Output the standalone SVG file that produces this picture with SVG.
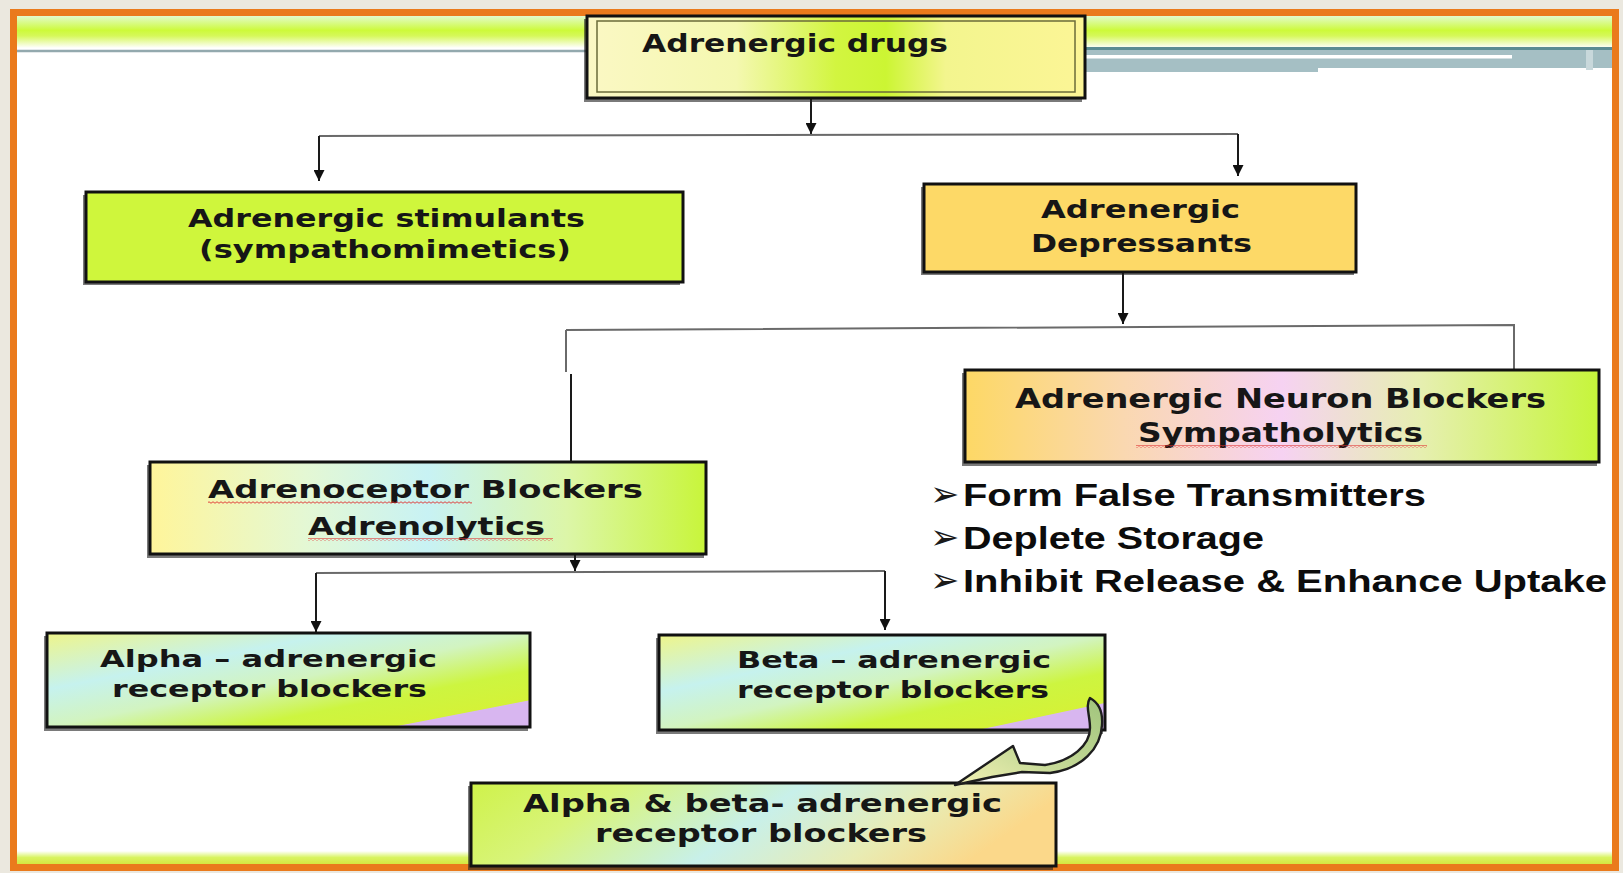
<svg xmlns="http://www.w3.org/2000/svg" width="1623" height="873" viewBox="0 0 1623 873">
<style>
.t{font-family:"DejaVu Sans","Liberation Sans",sans-serif;font-weight:bold;fill:#161616}
.b{font-family:"Liberation Sans",Arial,sans-serif;font-weight:bold;font-size:32px;fill:#0c0c0c}
.bu{font-family:"DejaVu Sans",sans-serif;font-size:35px;fill:#1a1a1a}
.box{stroke:#111;stroke-width:3}
.sh{fill:#222;opacity:.6}
.v{stroke:#1a1a1a;stroke-width:2;fill:none}
.h{stroke:#6a6a6a;stroke-width:2;fill:none}
</style>
<defs>
<marker id="ah" viewBox="0 0 10 10" refX="10" refY="5" markerWidth="11" markerHeight="11" orient="auto" markerUnits="userSpaceOnUse">
<path d="M0,0 L10,5 L0,10 z" fill="#111"/>
</marker>
<pattern id="wavy" patternUnits="userSpaceOnUse" width="4" height="3">
<path d="M0,1.5 Q1,0 2,1.5 T4,1.5" stroke="#e03030" stroke-width="0.9" fill="none"/>
</pattern>
<linearGradient id="gBand" x1="0" y1="0" x2="0" y2="1">
<stop offset="0" stop-color="#e2fbcc"/><stop offset="0.45" stop-color="#cdfa3a"/><stop offset="0.62" stop-color="#d6f85a"/><stop offset="1" stop-color="#ffffff"/>
</linearGradient>
<linearGradient id="gBot" x1="0" y1="0" x2="0" y2="1">
<stop offset="0" stop-color="#ffffff"/><stop offset="0.5" stop-color="#d8f460"/><stop offset="1" stop-color="#d6e640"/>
</linearGradient>
<linearGradient id="gTop" x1="0" y1="0" x2="1" y2="0">
<stop offset="0" stop-color="#fbf8c4"/><stop offset="0.3" stop-color="#f4f8b0"/><stop offset="0.5" stop-color="#d2f540"/><stop offset="0.6" stop-color="#ccf533"/><stop offset="0.72" stop-color="#f3f58e"/><stop offset="1" stop-color="#fcf596"/>
</linearGradient>
<linearGradient id="gNeur" x1="0" y1="0" x2="1" y2="0">
<stop offset="0" stop-color="#fdd865"/><stop offset="0.25" stop-color="#fad8b0"/><stop offset="0.5" stop-color="#f6d2f2"/><stop offset="0.72" stop-color="#e6efb0"/><stop offset="1" stop-color="#c6f53a"/>
</linearGradient>
<linearGradient id="gCep" x1="0" y1="0" x2="1" y2="0">
<stop offset="0" stop-color="#fff59a"/><stop offset="0.28" stop-color="#e4f8d4"/><stop offset="0.5" stop-color="#c8f2f4"/><stop offset="0.75" stop-color="#dcf6a8"/><stop offset="1" stop-color="#c8f53a"/>
</linearGradient>
<linearGradient id="gAB" x1="0" y1="0" x2="1" y2="1">
<stop offset="0" stop-color="#eef58a"/><stop offset="0.3" stop-color="#c6f2ee"/><stop offset="0.5" stop-color="#d2f4c0"/><stop offset="0.7" stop-color="#cdf540"/><stop offset="0.855" stop-color="#d4f238"/><stop offset="0.86" stop-color="#d8b6f0"/><stop offset="1" stop-color="#d8b6f0"/>
</linearGradient>
<linearGradient id="gBoth" x1="0" y1="0" x2="1" y2="0.2">
<stop offset="0" stop-color="#cff24a"/><stop offset="0.25" stop-color="#d8f47a"/><stop offset="0.55" stop-color="#c8f0ea"/><stop offset="0.8" stop-color="#e8ecb4"/><stop offset="1" stop-color="#fbd88a"/>
</linearGradient>
<linearGradient id="gCurve" x1="1" y1="0" x2="0" y2="1">
<stop offset="0" stop-color="#a0c47c"/><stop offset="0.6" stop-color="#cadc9a"/><stop offset="1" stop-color="#f4f2b4"/>
</linearGradient>
</defs>

<rect x="0" y="0" width="1623" height="873" fill="#ebe8df"/>
<rect x="13.5" y="12.5" width="1602" height="855" fill="#ffffff" stroke="#ea7a1c" stroke-width="7"/>
<rect x="17" y="16" width="1595" height="32" fill="url(#gBand)"/>
<line x1="17" y1="51" x2="590" y2="51" stroke="#93a9ae" stroke-width="2.5"/>
<rect x="1085" y="47" width="527" height="3" fill="#5b8c92"/>
<rect x="1085" y="50" width="527" height="18" fill="#a5bfc4"/>
<rect x="1085" y="55" width="427" height="3.5" fill="#ffffff"/>
<rect x="1085" y="68" width="233" height="4" fill="#a5bfc4"/>
<rect x="1586" y="50" width="7" height="20" fill="#c8d8db"/>
<rect x="17" y="851" width="1595" height="13" fill="url(#gBot)"/>

<g id="connectors">
<path class="v" d="M811,98 L811,134" marker-end="url(#ah)"/>
<path class="h" d="M319,136 L1238,134"/>
<path class="v" d="M319,136 L319,181" marker-end="url(#ah)"/>
<path class="v" d="M1238,134 L1238,176" marker-end="url(#ah)"/>
<path class="v" d="M1123,273 L1123,324" marker-end="url(#ah)"/>
<path class="h" d="M566,330 L1514,325 L1514,370"/>
<path class="h" d="M566,330 L566,372"/>
<path class="v" d="M571,374 L571,462" stroke-width="2.5"/>
<path class="v" d="M575,555 L575,571" marker-end="url(#ah)"/>
<path class="h" d="M316,573 L885,571"/>
<path class="v" d="M316,573 L316,632" marker-end="url(#ah)"/>
<path class="v" d="M885,571 L885,630" marker-end="url(#ah)"/>
</g>

<g id="n-drugs">
<rect class="sh" x="584" y="19" width="498" height="83"/>
<rect class="box" x="587" y="16" width="498" height="82" fill="url(#gTop)"/>
<rect x="597" y="21" width="478" height="71" fill="none" stroke="#6b6b3a" stroke-width="1.5"/>
<text class="t" x="642" y="52" font-size="24" textLength="306" lengthAdjust="spacingAndGlyphs">Adrenergic drugs</text>
</g>

<g id="n-stimulants">
<rect class="sh" x="83" y="195" width="597" height="90"/>
<rect class="box" x="86" y="192" width="597" height="90" fill="#cff63c"/>
<text class="t" x="188" y="227" font-size="25" textLength="397" lengthAdjust="spacingAndGlyphs">Adrenergic stimulants</text>
<text class="t" x="199" y="258" font-size="25" textLength="372" lengthAdjust="spacingAndGlyphs">(sympathomimetics)</text>
</g>

<g id="n-depressants">
<rect class="sh" x="921" y="187" width="433" height="88"/>
<rect class="box" x="924" y="184" width="432" height="88" fill="#fdd967"/>
<text class="t" x="1041" y="218" font-size="25" textLength="199" lengthAdjust="spacingAndGlyphs">Adrenergic</text>
<text class="t" x="1031" y="252" font-size="25" textLength="221" lengthAdjust="spacingAndGlyphs">Depressants</text>
</g>

<g id="n-neuron">
<rect class="sh" x="962" y="373" width="635" height="93"/>
<rect class="box" x="965" y="370" width="634" height="92" fill="url(#gNeur)"/>
<text class="t" x="1015" y="408" font-size="26" textLength="531" lengthAdjust="spacingAndGlyphs">Adrenergic Neuron Blockers</text>
<text class="t" x="1138" y="442" font-size="26" textLength="285" lengthAdjust="spacingAndGlyphs">Sympatholytics</text>
<rect x="1136" y="445" width="291" height="3" fill="url(#wavy)"/>
</g>

<g id="n-adrenoceptor">
<rect class="sh" x="147" y="465" width="557" height="93"/>
<rect class="box" x="150" y="462" width="556" height="92" fill="url(#gCep)"/>
<text class="t" x="208" y="498" font-size="25" textLength="435" lengthAdjust="spacingAndGlyphs">Adrenoceptor Blockers</text>
<text class="t" x="308" y="535" font-size="25" textLength="237" lengthAdjust="spacingAndGlyphs">Adrenolytics</text>
<rect x="208" y="501" width="264" height="3" fill="url(#wavy)"/>
<rect x="308" y="538" width="245" height="3" fill="url(#wavy)"/>
</g>

<g id="n-alpha">
<rect class="sh" x="44" y="636" width="484" height="95"/>
<rect class="box" x="47" y="633" width="483" height="94" fill="url(#gAB)"/>
<text class="t" x="100" y="667" font-size="23" textLength="337" lengthAdjust="spacingAndGlyphs">Alpha – adrenergic</text>
<text class="t" x="112" y="697" font-size="23" textLength="315" lengthAdjust="spacingAndGlyphs">receptor blockers</text>
</g>

<g id="n-beta">
<rect class="sh" x="656" y="638" width="447" height="96"/>
<rect class="box" x="659" y="635" width="446" height="95" fill="url(#gAB)"/>
<text class="t" x="737" y="668" font-size="23" textLength="314" lengthAdjust="spacingAndGlyphs">Beta – adrenergic</text>
<text class="t" x="737" y="698" font-size="23" textLength="312" lengthAdjust="spacingAndGlyphs">receptor blockers</text>
</g>

<g id="n-alphabeta">
<rect class="sh" x="468" y="786" width="585" height="84"/>
<rect class="box" x="471" y="783" width="585" height="83" fill="url(#gBoth)"/>
<text class="t" x="523" y="812" font-size="24" textLength="479" lengthAdjust="spacingAndGlyphs">Alpha &amp; beta- adrenergic</text>
<text class="t" x="595" y="842" font-size="24" textLength="332" lengthAdjust="spacingAndGlyphs">receptor blockers</text>
</g>

<g id="curved-arrow">
<path d="M1090,698 C1099,703 1103,712 1102,725 C1101,748 1082,769 1050,773 L1022,772 L992,777 L955,785 L1013,746 L1020,763 L1045,765 C1072,761 1090,745 1090,728 C1090,715 1085,706 1090,698 Z" fill="url(#gCurve)" stroke="#1e1e1e" stroke-width="2.4" stroke-linejoin="round"/>
</g>

<g id="n-bullets">
<text class="bu" x="930" y="506">➢</text>
<text class="b" x="963" y="506" textLength="463" lengthAdjust="spacingAndGlyphs">Form False Transmitters</text>
<text class="bu" x="930" y="549">➢</text>
<text class="b" x="963" y="549" textLength="301" lengthAdjust="spacingAndGlyphs">Deplete Storage</text>
<text class="bu" x="930" y="592">➢</text>
<text class="b" x="963" y="592" textLength="644" lengthAdjust="spacingAndGlyphs">Inhibit Release &amp; Enhance Uptake</text>
</g>
</svg>
